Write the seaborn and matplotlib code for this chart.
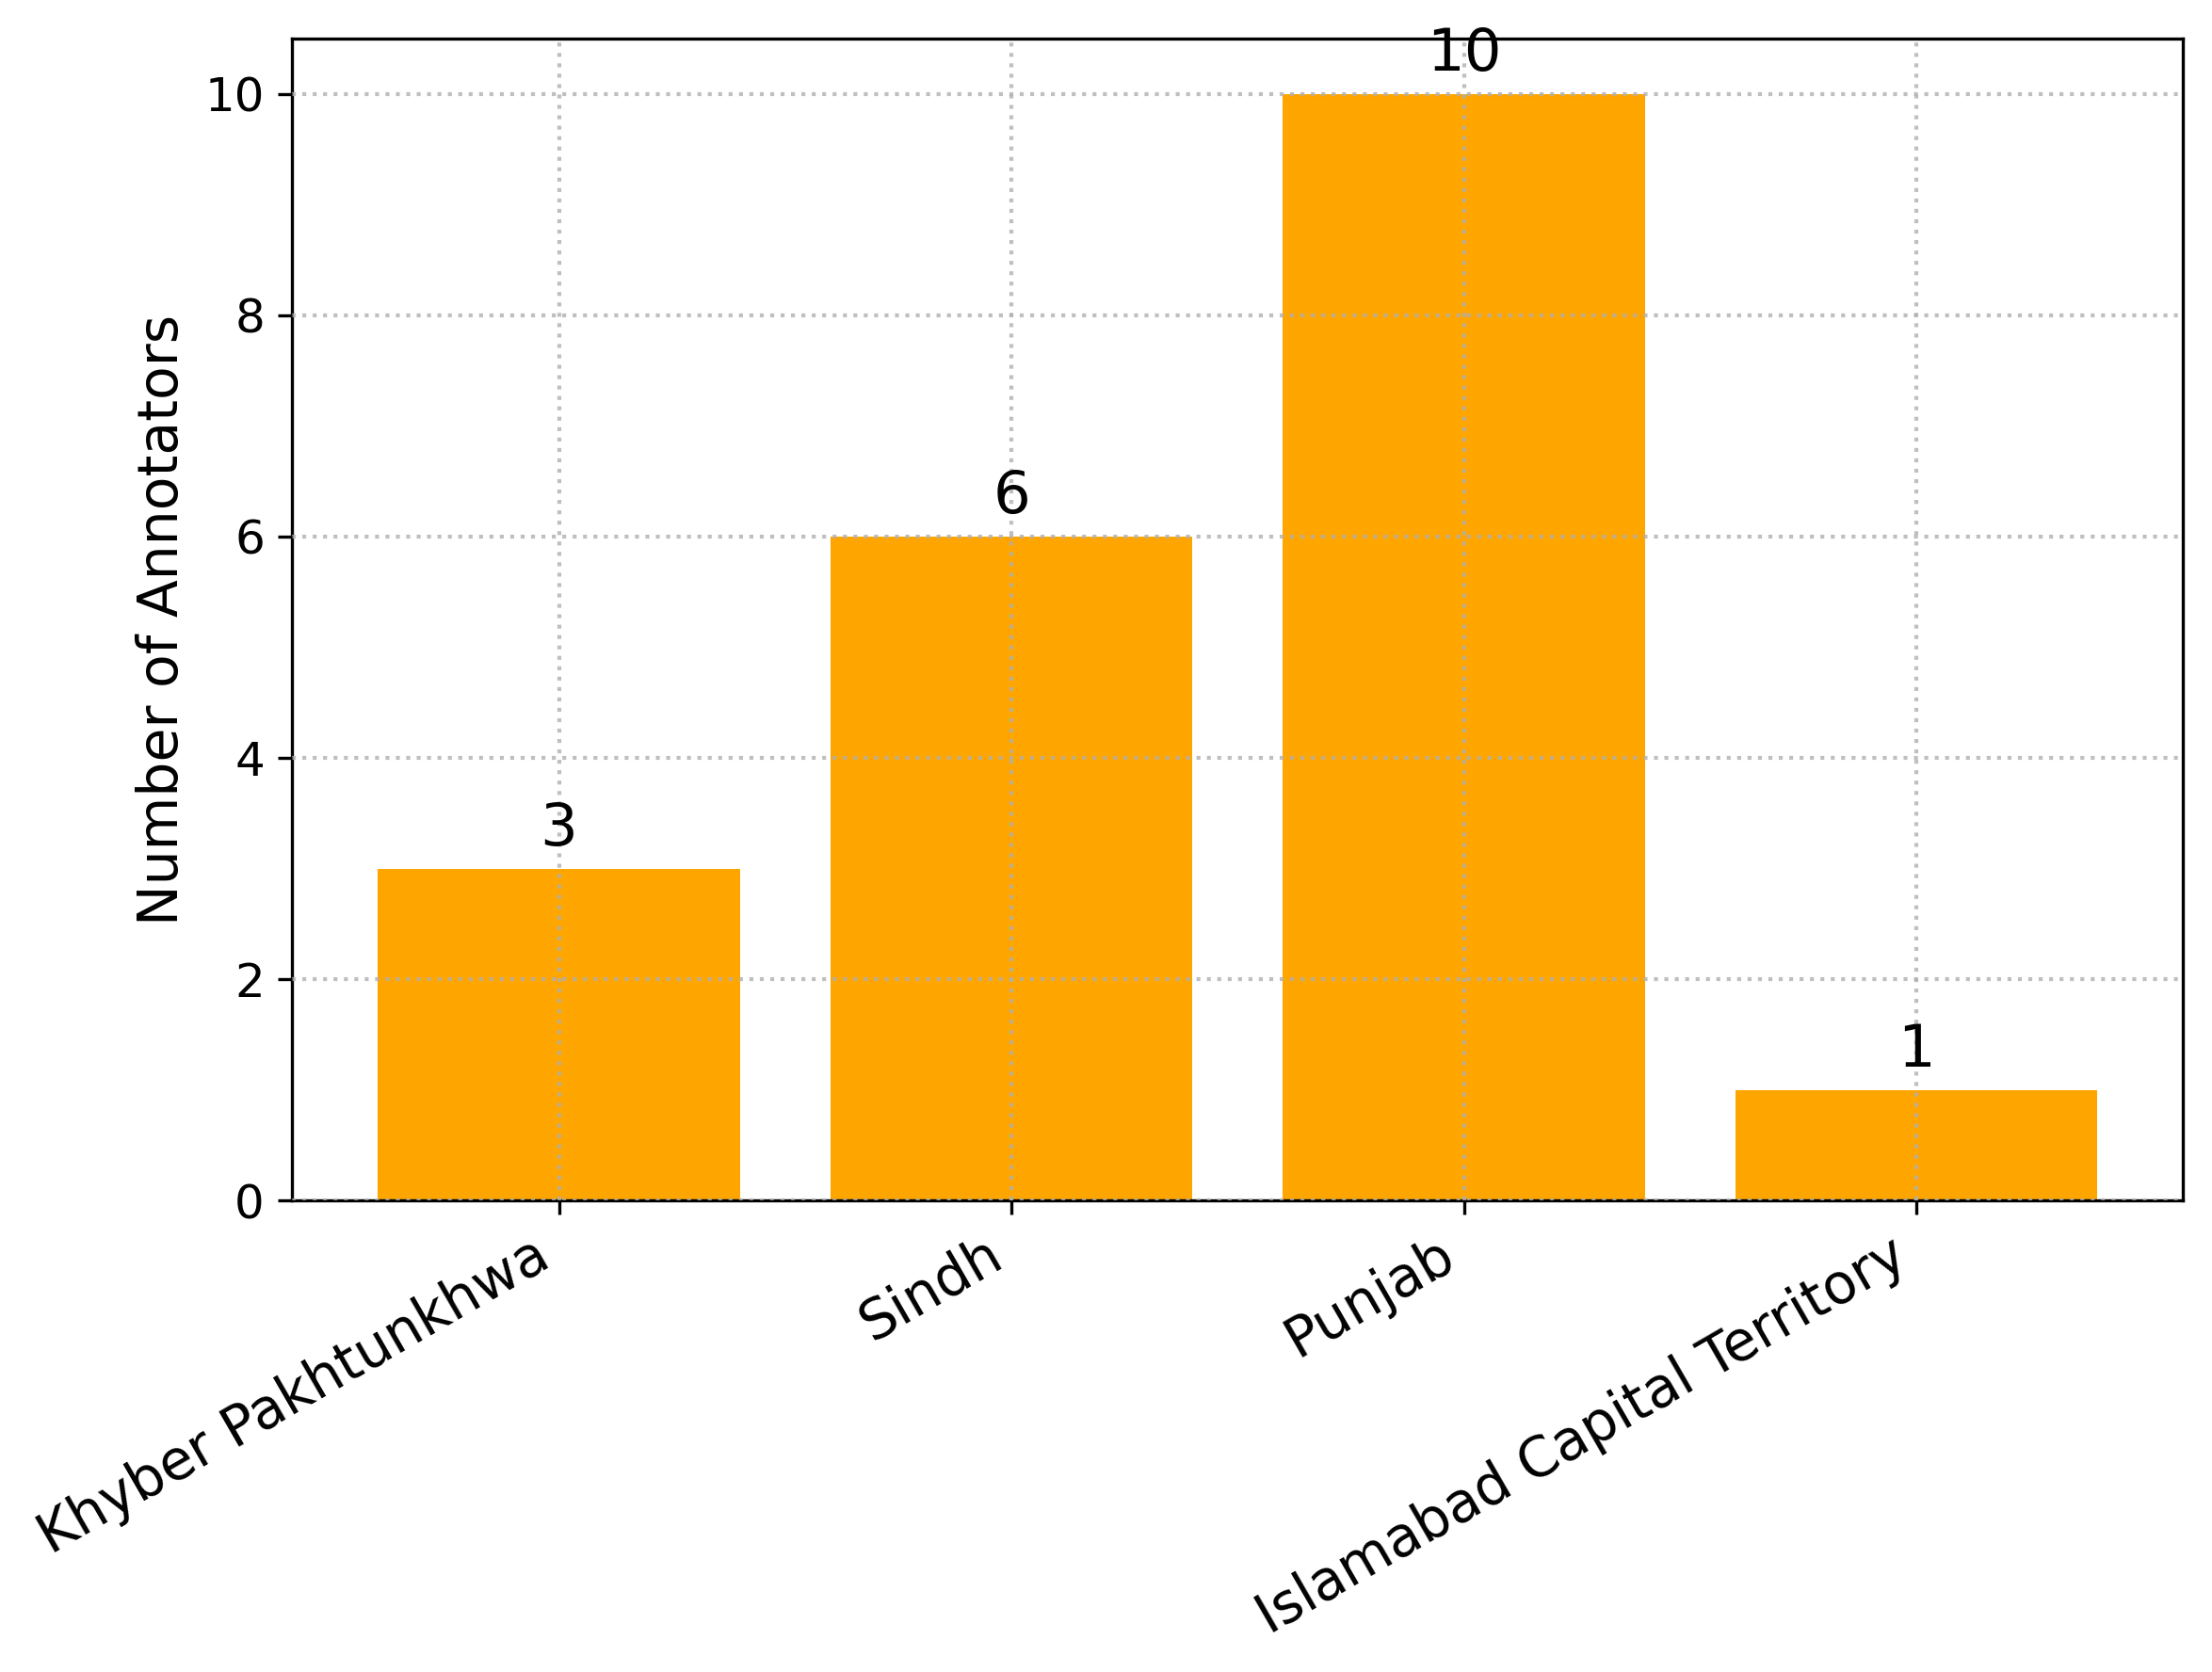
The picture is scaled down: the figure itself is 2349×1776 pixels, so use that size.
import pandas as pd
import matplotlib
matplotlib.use("Agg")
import matplotlib.pyplot as plt
import seaborn as sns

# data
regions = ['Khyber Pakhtunkhwa', 'Sindh', 'Punjab', 'Islamabad Capital Territory']
annotators = [3, 6, 10, 1]

df = pd.DataFrame({'region': regions, 'count': annotators})

fig, ax = plt.subplots(figsize=(2349/300, 1776/300), dpi=300)
sns.barplot(data=df, x='region', y='count', color='orange', saturation=1,
            width=0.8, ax=ax)

# value labels on top of bars
for i, v in enumerate(annotators):
    ax.text(i, v + 0.1, str(v), ha='center', va='bottom', fontsize=15)

ax.set_xlim(-0.59, 3.59)
ax.set_ylim(0, 10.5)
ax.set_xlabel('')
ax.set_ylabel('Number of Annotators', fontsize=14)
ax.grid(True, linestyle=':', linewidth=1, color='#b0b0b0', alpha=0.8)
ax.set_axisbelow(False)
plt.xticks(rotation=30, ha='right', fontsize=14)
plt.yticks(fontsize=12)

plt.subplots_adjust(left=0.132, right=0.987, top=0.977, bottom=0.282)
plt.savefig('out.png', dpi=300)
